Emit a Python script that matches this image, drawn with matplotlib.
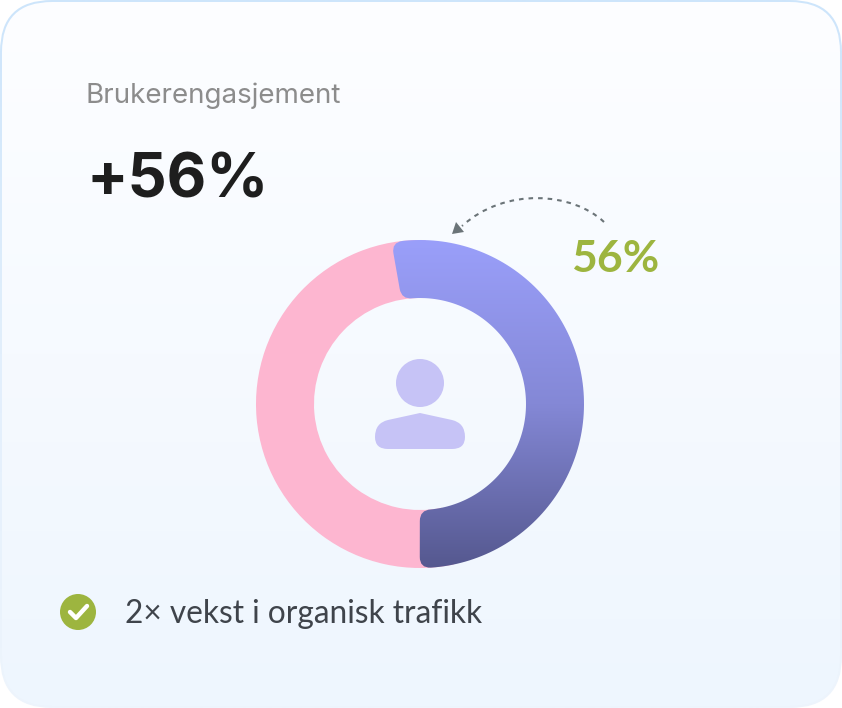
import numpy as np
import matplotlib
matplotlib.use('Agg')
import matplotlib.pyplot as plt
from matplotlib.colors import LinearSegmentedColormap
from matplotlib.patches import Circle, FancyBboxPatch, Polygon, PathPatch, Wedge
from matplotlib.path import Path

title = 'Brukerengasjement'
big_value = '+56%'
arc_label = '56%'
check_text = '2× vekst i organisk trafikk'
# share of the ring as drawn in the picture (the label says 56, the arc is shorter)
shares = [52.8, 47.2]
start_angle = -10

cx, cy = 420, 404
r_out, r_in = 164, 106


def gradient(ax, extent, colors, clip):
	cmap = LinearSegmentedColormap.from_list('g', colors)
	grad = np.linspace(0, 1, 256).reshape(-1, 1)
	im = ax.imshow(grad, extent=extent, cmap=cmap, aspect='auto', zorder=clip.get_zorder())
	im.set_clip_path(clip)


def pos(r, t):
	t = np.radians(t)
	return (cx + r * np.sin(t), cy - r * np.cos(t))


def rounded_arc(a0, a1, rad):
	# ring segment with soft corners, t clockwise from the top
	do = np.degrees(rad / r_out)
	di = np.degrees(rad / r_in)
	verts, codes = [pos(r_out, a0 + do)], [Path.MOVETO]
	for t in np.linspace(a0 + do, a1 - do, 120)[1:]:
		verts.append(pos(r_out, t))
		codes.append(Path.LINETO)
	verts += [pos(r_out, a1), pos(r_out - rad, a1), pos(r_in + rad, a1), pos(r_in, a1), pos(r_in, a1 - di)]
	codes += [Path.CURVE3, Path.CURVE3, Path.LINETO, Path.CURVE3, Path.CURVE3]
	for t in np.linspace(a1 - di, a0 + di, 120)[1:]:
		verts.append(pos(r_in, t))
		codes.append(Path.LINETO)
	verts += [pos(r_in, a0), pos(r_in + rad, a0), pos(r_out - rad, a0), pos(r_out, a0), pos(r_out, a0 + do)]
	codes += [Path.CURVE3, Path.CURVE3, Path.LINETO, Path.CURVE3, Path.CURVE3]
	return Path(verts, codes)


fig = plt.figure(figsize=(8.42, 7.08), dpi=100, facecolor='white')
ax = fig.add_axes([0, 0, 1, 1])

# card
outer = FancyBboxPatch((0, 0), 842, 708, boxstyle='round,pad=0,rounding_size=52', fc='none', ec='none', zorder=1)
ax.add_patch(outer)
gradient(ax, (0, 842, 708, 0), ['#CDE5FB', '#E2EFFC', '#EEF5FD'], outer)
inner = FancyBboxPatch((2, 2), 838, 704, boxstyle='round,pad=0,rounding_size=50', fc='none', ec='none', zorder=2)
ax.add_patch(inner)
gradient(ax, (0, 842, 708, 0), ['#FDFEFF', '#F6FAFF', '#EEF6FE'], inner)

# ring
a0 = start_angle
a1 = a0 + shares[0] * 3.6
ax.add_patch(Wedge((cx, cy), r_out, a1 - 12 - 90, a1 + shares[1] * 3.6 + 12 - 90, width=r_out - r_in,
	fc='#FDB6D0', ec='none', zorder=3))
arc = PathPatch(rounded_arc(a0, a1, 11), fc='none', ec='none', zorder=4)
ax.add_patch(arc)
gradient(ax, (cx - r_out, cx + r_out, cy + r_out, cy - r_out), ['#9A9FFA', '#8488D6', '#55588F'], arc)

# person icon
ax.add_patch(Circle((420, 383), 24, fc='#C6C3F6', ec='none', zorder=5))
body = [(420, 413), (388, 420), (375, 423), (375, 437), (375, 449), (388, 449), (452, 449),
	(465, 449), (465, 437), (465, 423), (452, 420), (420, 413)]
body_codes = [Path.MOVETO, Path.LINETO, Path.CURVE3, Path.CURVE3, Path.CURVE3, Path.CURVE3, Path.LINETO,
	Path.CURVE3, Path.CURVE3, Path.CURVE3, Path.CURVE3, Path.LINETO]
ax.add_patch(PathPatch(Path(body, body_codes), fc='#C6C3F6', ec='none', zorder=5))

# dashed arrow
curve = Path([(604, 222), (572, 192), (505, 187), (462, 226)], [Path.MOVETO, Path.CURVE4, Path.CURVE4, Path.CURVE4])
ax.add_patch(PathPatch(curve, fc='none', ec='#6B7478', lw=1.5, linestyle=(0, (2.2, 2.4)), zorder=5))
ax.add_patch(Polygon([(452, 234), (456, 222), (464, 232)], closed=True, fc='#6B7478', ec='none', zorder=5))

# check mark
ax.add_patch(Circle((78, 612), 18, fc='#9DB53F', ec='none', zorder=5))
ax.plot([70, 76, 87], [612, 618, 606], color='white', lw=3.2, solid_capstyle='round', solid_joinstyle='round', zorder=6)

ax.text(86, 96, title, fontsize=20, color='#8C8C8C', family='Inter', va='center', ha='left', zorder=6)
ax.text(86, 181, big_value, fontsize=44, color='#1E1E1E', family='Inter', weight='bold', va='center', ha='left', zorder=6)
ax.text(571, 259, arc_label, fontsize=32, color='#9DB53F', family='Lato', weight='bold', va='center', ha='left', zorder=6)
ax.text(125, 614, check_text, fontsize=22.8, color='#3F444B', family='Lato', va='center', ha='left', zorder=6)

ax.set_xlim(0, 842)
ax.set_ylim(708, 0)
ax.axis('off')

plt.savefig('out.png', dpi=100)
